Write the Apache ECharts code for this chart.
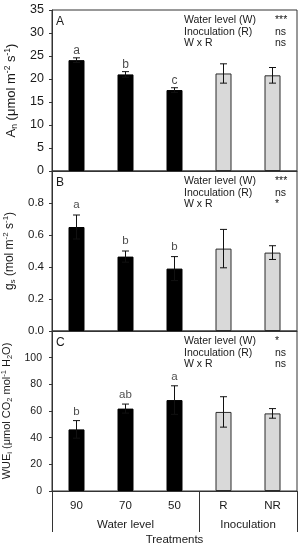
<!DOCTYPE html>
<html>
<head>
<meta charset="utf-8">
<script src="https://cdn.jsdelivr.net/npm/echarts@6/dist/echarts.min.js"></script>
<style>
html,body{margin:0;padding:0;background:#fff;}
#c{width:303px;height:550px;}
</style>
</head>
<body>
<div id="c"></div>
<script>
// ---- data ----
const categories = ['90', '70', '50', 'R', 'NR'];
const groupLabels = ['Water level', 'Inoculation'];

const anMean = [24.1, 21.0, 17.6, 21.2, 20.8];
const anErr = [0.5, 0.6, 0.5, 2.1, 1.7];
const anLetters = ['a', 'b', 'c', '', ''];

const gsMean = [0.65, 0.465, 0.39, 0.515, 0.49];
const gsErr = [0.075, 0.035, 0.075, 0.12, 0.043];
const gsLetters = ['a', 'b', 'b', '', ''];

const wueMean = [46.2, 61.8, 68.2, 59.3, 58.2];
const wueErr = [6.6, 3.4, 10.7, 11.4, 3.6];
const wueLetters = ['b', 'ab', 'a', '', ''];

const statRows = ['Water level (W)', 'Inoculation (R)', 'W x R'];
const anStats = ['***', 'ns', 'ns'];
const gsStats = ['***', 'ns', '*'];
const wueStats = ['*', 'ns', 'ns'];
const panelLetters = ['A', 'B', 'C'];

// ---- styling ----
const FONT = '"Liberation Sans", Arial, sans-serif';
const TXT = '#1a1a1a';
const LINE = '#333333';
const isWater = [true, true, true, false, false];

const chart = echarts.init(document.getElementById('c'), null, {renderer: 'canvas'});

const grids = [
  {left: 52, top: 10, width: 245, height: 161},
  {left: 52, top: 171, width: 245, height: 160},
  {left: 52, top: 331, width: 245, height: 160}
].map(g => Object.assign(g, {show: true, borderColor: LINE, borderWidth: 1, containLabel: false, outerBoundsMode: 'none'}));

// per-panel text sizes (panels were scaled differently in the original figure)
const tickFont = [12.5, 11.5, 10.5];
const nameFont = [13, 12, 11];
const supFont = [8.5, 8, 7.5];
const letterFont = [12, 11.5, 11.5];
const letterGap = [1, 4, 3];

function makeRich(i) {
  return {
    n: {fontSize: nameFont[i], fontFamily: FONT, color: TXT, lineHeight: nameFont[i] + 3, verticalAlign: 'middle'},
    sup: {fontSize: supFont[i], fontFamily: FONT, color: TXT, lineHeight: supFont[i] + 1, verticalAlign: 'top'},
    sub: {fontSize: supFont[i], fontFamily: FONT, color: TXT, lineHeight: supFont[i] + 1, verticalAlign: 'bottom'}
  };
}
const yNames = [
  '{n|A}{sub|n}{n| (μmol m}{sup|-2}{n| s}{sup|-1}{n|)}',
  '{n|g}{sub|s}{n| (mol m}{sup|-2}{n| s}{sup|-1}{n|)}',
  '{n|WUE}{sub|i}{n| (μmol CO}{sub|2}{n| mol}{sup|-1}{n| H}{sub|2}{n|O)}'
];
const yCfg = [
  {max: 35, interval: 5, dec: 0, hideMax: false, gap: 27, margin: 8},
  {max: 1.0, interval: 0.2, dec: 1, hideMax: true, gap: 28, margin: 8},
  {max: 120, interval: 20, dec: 0, hideMax: true, gap: 30, margin: 10}
];

const yAxes = yCfg.map((c, i) => ({
  type: 'value', gridIndex: i, min: 0, max: c.max, interval: c.interval,
  splitLine: {show: false},
  axisLine: {show: true, lineStyle: {color: LINE}},
  axisTick: {show: true, length: 3, inside: false, lineStyle: {color: LINE}},
  axisLabel: {
    color: TXT, fontSize: tickFont[i], fontFamily: FONT, margin: c.margin,
    formatter: v => (c.hideMax && Math.abs(v - c.max) < 1e-9 ? '' : v.toFixed(c.dec))
  },
  name: yNames[i], nameLocation: 'middle', nameGap: c.gap,
  nameTextStyle: {rich: makeRich(i)}
}));

const xAxes = [0, 1].map(i => ({
  type: 'category', gridIndex: i, data: categories,
  axisLine: {show: true, lineStyle: {color: LINE}},
  axisTick: {show: false}, axisLabel: {show: false}
}));
xAxes.push({
  type: 'category', gridIndex: 2, data: categories, position: 'bottom',
  axisLine: {show: true, lineStyle: {color: LINE}},
  axisTick: {show: true, length: 41, inside: false, lineStyle: {color: LINE},
    interval: (idx) => idx === 0 || idx === 3},
  axisLabel: {show: true, interval: 0, color: TXT, fontSize: 11.5, fontFamily: FONT, margin: 9},
  name: 'Treatments', nameLocation: 'middle', nameGap: 43,
  nameTextStyle: {color: TXT, fontSize: 11.5, fontFamily: FONT}
});
// group labels axis: 11 half-band positions; groups centred at half-band 3 and 8
const groupSlots = new Array(11).fill('');
groupSlots[3] = groupLabels[0];
groupSlots[8] = groupLabels[1];
xAxes.push({
  type: 'category', gridIndex: 2, data: groupSlots, boundaryGap: false, position: 'bottom',
  axisLine: {show: false}, axisTick: {show: false},
  axisLabel: {show: true, interval: 0, hideOverlap: false, color: TXT, fontSize: 11.5, fontFamily: FONT, margin: 28}
});

function panelSeries(i, mean, err, letters) {
  return [
    {
      type: 'bar', xAxisIndex: i, yAxisIndex: i, barWidth: 16, silent: true,
      data: mean.map((v, k) => ({
        value: v,
        itemStyle: isWater[k]
          ? {color: '#000000', borderColor: '#000000', borderWidth: 1}
          : {color: '#d9d9d9', borderColor: '#2b2b2b', borderWidth: 1}
      })),
      z: 2
    },
    {
      type: 'custom', xAxisIndex: i, yAxisIndex: i, silent: true, z: 3,
      data: mean.map((v, k) => [k, v - err[k], v + err[k]]),
      renderItem: (params, api) => {
        const lo = api.coord([api.value(0), api.value(1)]);
        const hi = api.coord([api.value(0), api.value(2)]);
        const hw = 3.5;
        const st = {stroke: '#111', lineWidth: 1, fill: null};
        return {type: 'group', children: [
          {type: 'line', shape: {x1: hi[0], y1: hi[1], x2: lo[0], y2: lo[1]}, style: st},
          {type: 'line', shape: {x1: hi[0] - hw, y1: hi[1], x2: hi[0] + hw, y2: hi[1]}, style: st},
          {type: 'line', shape: {x1: lo[0] - hw, y1: lo[1], x2: lo[0] + hw, y2: lo[1]}, style: st}
        ]};
      }
    },
    {
      type: 'scatter', xAxisIndex: i, yAxisIndex: i, silent: true, symbolSize: 0, z: 4,
      data: mean.map((v, k) => [k, v + err[k]]),
      label: {show: true, position: 'top', distance: letterGap[i], color: TXT, fontSize: letterFont[i], fontFamily: FONT,
        formatter: p => letters[p.dataIndex]}
    }
  ];
}

const series = [].concat(
  panelSeries(0, anMean, anErr, anLetters),
  panelSeries(1, gsMean, gsErr, gsLetters),
  panelSeries(2, wueMean, wueErr, wueLetters)
);

// annotation texts (statistics) per panel
const statSets = [anStats, gsStats, wueStats];
const graphics = [];
grids.forEach((g, i) => {
  graphics.push({type: 'text', left: 56, top: g.top + 6,
    style: {text: panelLetters[i], fill: TXT, font: '12px ' + FONT}});
  statRows.forEach((r, j) => {
    graphics.push({type: 'text', left: 184, top: g.top + 5 + j * 11.3,
      style: {text: r, fill: TXT, font: '10.5px ' + FONT}});
    graphics.push({type: 'text', left: 275, top: g.top + 5 + j * 11.3,
      style: {text: statSets[i][j], fill: TXT, font: '10.5px ' + FONT}});
  });
});

chart.setOption({
  animation: false,
  backgroundColor: '#ffffff',
  textStyle: {fontFamily: FONT},
  grid: grids,
  xAxis: xAxes,
  yAxis: yAxes,
  series: series,
  graphic: graphics
});
</script>
</body>
</html>
